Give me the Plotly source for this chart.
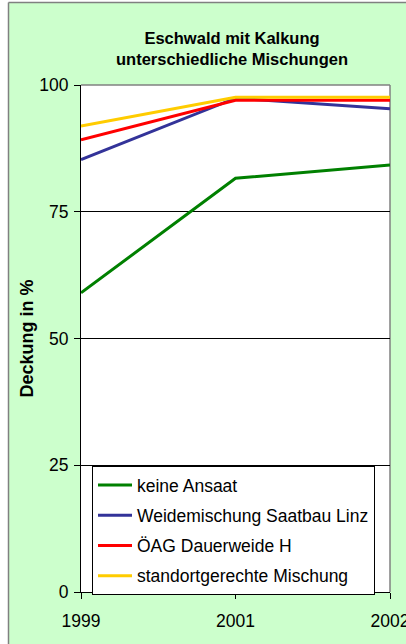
import plotly.graph_objects as go

years = ["1999", "2001", "2002"]
series_names = ["keine Ansaat", "Weidemischung Saatbau Linz", "ÖAG Dauerweide H", "standortgerechte Mischung"]
keine_ansaat = [59.0, 81.6, 84.2]
weidemischung = [85.3, 97.4, 95.3]
oeag = [89.2, 97.0, 97.0]
standortgerecht = [91.9, 97.6, 97.6]
colors = ["#008000", "#333399", "#FF0000", "#FFCC00"]
y_ticks = [0, 25, 50, 75, 100]

W, H = 406, 644
L, R, T, B = 81, 16, 85, 52
pw, ph = W - L - R, H - T - B

def px_x(p):
    return (p - L) / pw

def px_y(p):
    return (H - B - p) / ph

fig = go.Figure()
for name, vals, c in zip(series_names, [keine_ansaat, weidemischung, oeag, standortgerecht], colors):
    fig.add_trace(go.Scatter(x=years, y=vals, mode="lines", name=name, legendgroup=name,
                             line=dict(color=c, width=3)))

font_main = "Liberation Sans, Arial, sans-serif"

fig.update_layout(
    width=W, height=H,
    margin=dict(l=L, r=R, t=T, b=B, autoexpand=False),
    paper_bgcolor="#CCFFCC",
    plot_bgcolor="white",
    font=dict(family=font_main, size=17.5, color="black"),
    title=dict(text="<b>Eschwald mit Kalkung<br>unterschiedliche Mischungen</b>",
               font=dict(size=16.5, family=font_main, color="black"),
               xref="paper", x=px_x(232), xanchor="center",
               yref="container", y=1 - 44 / H, yanchor="middle", automargin=False),
    showlegend=True,
    legend=dict(x=px_x(92), y=px_y(466), xanchor="left", yanchor="top",
                bgcolor="white", bordercolor="black", borderwidth=1,
                font=dict(size=17.5, family=font_main), traceorder="grouped",
                tracegroupgap=4.5, itemwidth=34),
    xaxis=dict(type="category", range=[0, 2], showgrid=False, zeroline=False,
               showline=True, linecolor="black", linewidth=1, automargin=False,
               ticks="outside", ticklen=6, tickcolor="black",
               tickfont=dict(size=17.5), ticklabelstandoff=7, fixedrange=True),
    yaxis=dict(range=[0, 100], tickvals=y_ticks, showgrid=True, gridcolor="black",
               gridwidth=1, zeroline=False, showline=True, linecolor="black",
               linewidth=1, ticks="outside", ticklen=6, tickcolor="black", automargin=False,
               tickfont=dict(size=17.5), ticklabelstandoff=2, fixedrange=True,
               title=dict(text="<b>Deckung in %</b>", font=dict(size=18), standoff=0)),
)

shapes = [
    # white margin at left and top outside the chart area
    dict(type="rect", xref="paper", yref="paper", x0=px_x(-5), x1=px_x(8.5), y0=px_y(H + 10), y1=px_y(-5),
         fillcolor="white", line=dict(width=0), layer="below"),
    dict(type="rect", xref="paper", yref="paper", x0=px_x(-5), x1=px_x(W + 10), y0=px_y(2.5), y1=px_y(-5),
         fillcolor="white", line=dict(width=0), layer="below"),
    # chart area border (left, top)
    dict(type="line", xref="paper", yref="paper", x0=px_x(8.5), x1=px_x(8.5), y0=px_y(2.5), y1=px_y(H + 10),
         line=dict(color="#808080", width=1.5)),
    dict(type="line", xref="paper", yref="paper", x0=px_x(8.5), x1=px_x(W + 10), y0=px_y(2.5), y1=px_y(2.5),
         line=dict(color="#808080", width=1.5)),
    # plot area border (top, right)
    dict(type="line", xref="paper", yref="paper", x0=0, x1=1, y0=1, y1=1,
         line=dict(color="#808080", width=1.5), layer="below"),
    dict(type="line", xref="paper", yref="paper", x0=1, x1=1, y0=0, y1=1,
         line=dict(color="#808080", width=1.5), layer="below"),
]
fig.update_layout(shapes=shapes)

fig.write_html("out.html", config={"displayModeBar": False},
               post_script="document.body.style.margin='0';document.body.style.overflow='hidden';")
